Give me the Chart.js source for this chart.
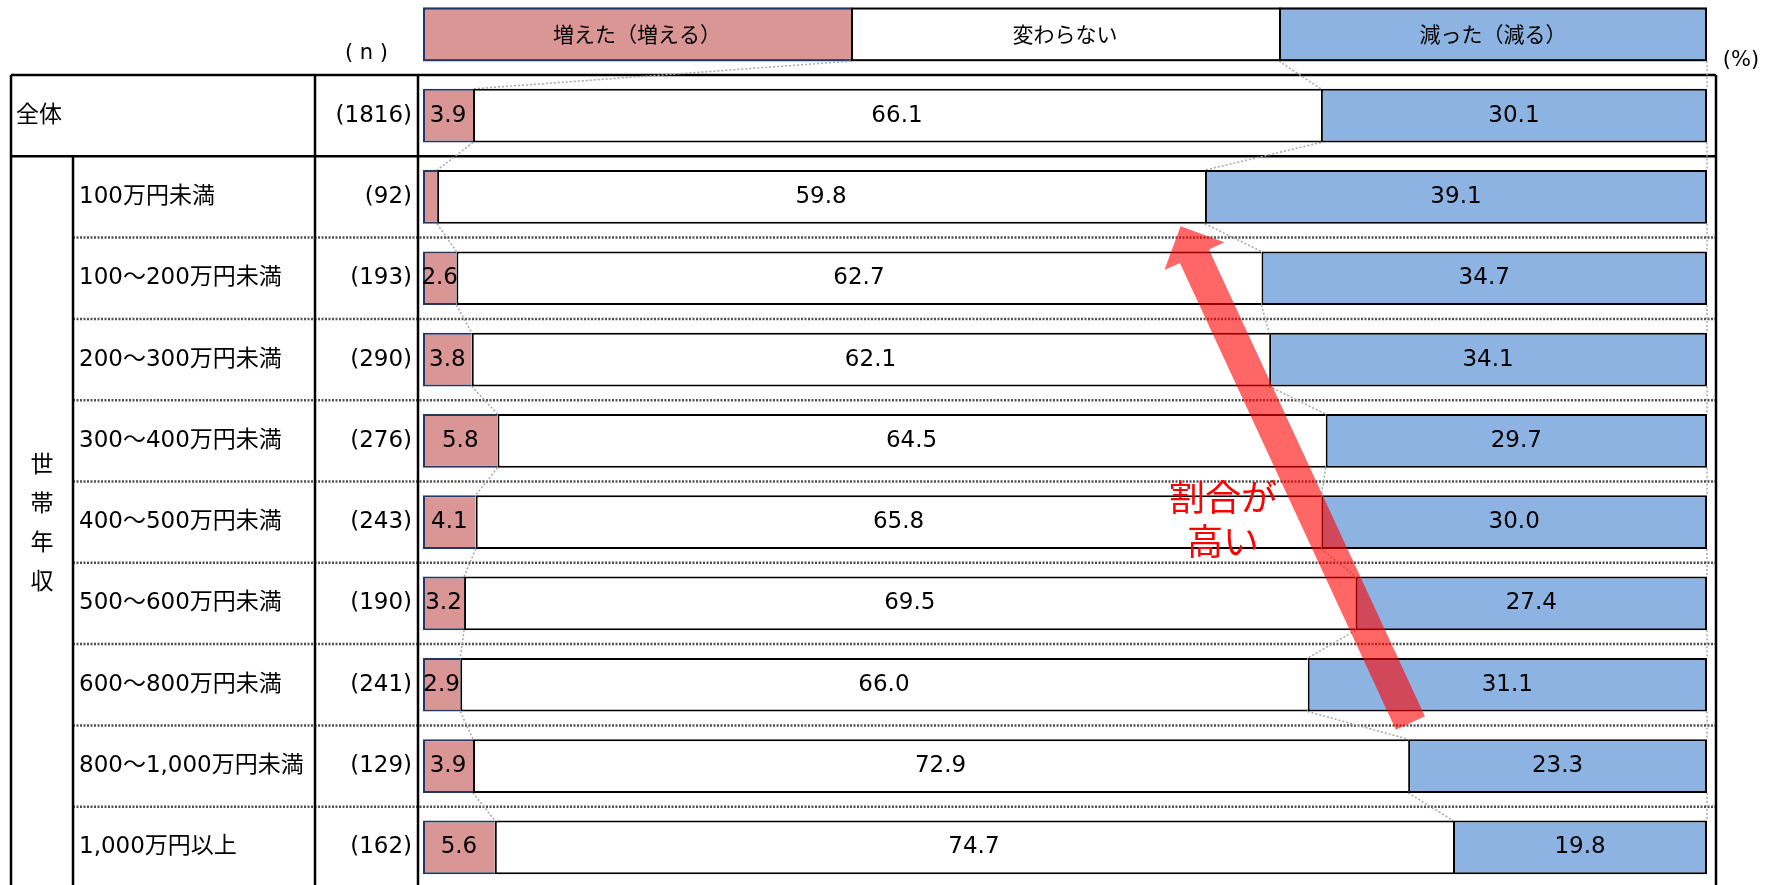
<!DOCTYPE html>
<html lang="ja">
<head>
<meta charset="utf-8">
<script src="https://cdn.jsdelivr.net/npm/chart.js@4"></script>
<style>
  html, body { margin: 0; padding: 0; background: #fff; overflow: hidden; }
  canvas { display: block; }
</style>
</head>
<body>
<canvas id="chart" width="1772" height="900"></canvas>
<script>
const ROW_LABELS = ['全体', '100万円未満', '100～200万円未満', '200～300万円未満', '300～400万円未満',
  '400～500万円未満', '500～600万円未満', '600～800万円未満', '800～1,000万円未満', '1,000万円以上'];
const N_LABELS = ['(1816)', '(92)', '(193)', '(290)', '(276)', '(243)', '(190)', '(241)', '(129)', '(162)'];
const INCREASED = [3.9, 1.1, 2.6, 3.8, 5.8, 4.1, 3.2, 2.9, 3.9, 5.6];
const UNCHANGED = [66.1, 59.8, 62.7, 62.1, 64.5, 65.8, 69.5, 66.0, 72.9, 74.7];
const DECREASED = [30.1, 39.1, 34.7, 34.1, 29.7, 30.0, 27.4, 31.1, 23.3, 19.8];
const SERIES_NAMES = ['増えた（増える）', '変わらない', '減った（減る）'];
const GROUP_LABEL = '世帯年収';
const NOTE_LINES = ['割合が', '高い'];

const COLORS = ['#D99694', '#FFFFFF', '#8DB3E2'];
const BORDERS = ['#1F3864', '#000000', '#000000'];
const FONT = '"DejaVu Sans", "Noto Sans CJK JP", sans-serif';
const CJK = '"Noto Sans CJK JP", sans-serif';

// table column edges (px)
const COL_LEFT = 11, COL_GROUP = 73, COL_N = 315, COL_BAR = 418;

const RAW = [INCREASED, UNCHANGED, DECREASED];
// Excel style 100% stacking
const totals = INCREASED.map((v, i) => v + UNCHANGED[i] + DECREASED[i]);
const share = arr => arr.map((v, i) => v / totals[i] * 100);

function line(c, x1, y1, x2, y2) {
  c.beginPath();
  c.moveTo(x1, y1);
  c.lineTo(x2, y2);
  c.stroke();
}

function drawArrow(c, x1, y1, x2, y2, shaftW, headW, headL) {
  const len = Math.hypot(x2 - x1, y2 - y1);
  const ux = (x2 - x1) / len, uy = (y2 - y1) / len;
  const px = -uy, py = ux;
  const bx = x2 - ux * headL, by = y2 - uy * headL;
  c.beginPath();
  c.moveTo(x1 + px * shaftW / 2, y1 + py * shaftW / 2);
  c.lineTo(bx + px * shaftW / 2, by + py * shaftW / 2);
  c.lineTo(bx + px * headW / 2, by + py * headW / 2);
  c.lineTo(x2, y2);
  c.lineTo(bx - px * headW / 2, by - py * headW / 2);
  c.lineTo(bx - px * shaftW / 2, by - py * shaftW / 2);
  c.lineTo(x1 - px * shaftW / 2, y1 - py * shaftW / 2);
  c.closePath();
  c.fill();
}

const tablePlugin = {
  id: 'table',
  beforeDatasetsDraw(chart) {
    const { ctx: c, scales: { x, y } } = chart;
    const rowH = y.getPixelForValue(1) - y.getPixelForValue(0);
    const top = i => y.getPixelForValue(i) - rowH / 2;
    const bottom = chart.height;
    const right = x.right + 9;
    const barH = chart.getDatasetMeta(0).data[0].height;

    c.save();
    // dotted row separators
    c.strokeStyle = '#505050';
    c.lineWidth = 2.5;
    c.setLineDash([2, 1.5]);
    for (let i = 2; i < ROW_LABELS.length; i++) line(c, COL_GROUP, top(i), right, top(i));
    c.setLineDash([]);

    // solid table lines
    c.strokeStyle = '#000';
    c.lineWidth = 2.5;
    line(c, COL_LEFT, top(0), right, top(0));
    line(c, COL_LEFT, top(1), right, top(1));
    line(c, COL_LEFT, top(0), COL_LEFT, bottom);
    line(c, COL_GROUP, top(1), COL_GROUP, bottom);
    line(c, COL_N, top(0), COL_N, bottom);
    line(c, COL_BAR, top(0), COL_BAR, bottom);
    line(c, right, top(0), right, bottom);

    // row labels and n
    c.fillStyle = '#000';
    c.textBaseline = 'middle';
    c.font = '23px ' + FONT;
    ROW_LABELS.forEach((lab, i) => {
      const cy = y.getPixelForValue(i);
      c.textAlign = 'left';
      c.fillText(lab, i === 0 ? 16 : 79, cy);
      c.textAlign = 'right';
      c.fillText(N_LABELS[i], 412, cy);
    });

    // vertical group label
    c.textAlign = 'center';
    c.font = '23px ' + CJK;
    const gMid = (top(1) + y.bottom) / 2;
    [...GROUP_LABEL].forEach((ch, k) => {
      c.fillText(ch, (COL_LEFT + COL_GROUP) / 2, gMid + (k - 1.5) * 39);
    });

    c.font = '21px ' + FONT;
    c.fillText('( n )', (COL_N + COL_BAR) / 2, 54);
    c.fillText('(%)', 1741, 61);

    // legend drawn as a stacked bar above the table
    const ly = y.getPixelForValue(0) - rowH;
    const l0 = ly - barH / 2;
    c.font = '21px ' + CJK;
    SERIES_NAMES.forEach((name, d) => {
      const x0 = x.getPixelForValue(100 * d / 3);
      const x1 = x.getPixelForValue(100 * (d + 1) / 3);
      c.fillStyle = COLORS[d];
      c.fillRect(x0, l0, x1 - x0, barH);
      c.strokeStyle = BORDERS[d];
      c.lineWidth = 2;
      c.strokeRect(x0 + 1, l0 + 1, x1 - x0 - (d === 2 ? 2 : 0), barH - 2);
      c.fillStyle = '#000';
      c.fillText(name, (x0 + x1) / 2, ly);
    });

    // series lines between consecutive bars (legend row included)
    c.strokeStyle = '#A6A6A6';
    c.lineWidth = 1.5;
    c.setLineDash([2, 2]);
    for (let d = 0; d < 3; d++) {
      const els = chart.getDatasetMeta(d).data;
      line(c, x.getPixelForValue(100 * (d + 1) / 3), l0 + barH, els[0].x, els[0].y - els[0].height / 2);
      for (let i = 0; i < els.length - 1; i++) {
        const a = els[i], b = els[i + 1];
        line(c, a.x, a.y + a.height / 2, b.x, b.y - b.height / 2);
      }
    }
    c.restore();
  },
  afterDatasetsDraw(chart) {
    const { ctx: c, scales: { x, y } } = chart;
    c.save();
    c.fillStyle = '#000';
    c.textAlign = 'center';
    c.textBaseline = 'middle';
    c.font = '23px ' + FONT;
    for (let d = 0; d < 3; d++) {
      chart.getDatasetMeta(d).data.forEach((el, i) => {
        const v = RAW[d][i];
        if (v < 2) return; // too thin to label
        c.fillText(v.toFixed(1), (el.x + el.base) / 2, el.y);
      });
    }

    // annotation arrow, positioned in (percent, row) coordinates
    c.fillStyle = 'rgba(255, 0, 0, 0.6)';
    drawArrow(c, x.getPixelForValue(76.9), y.getPixelForValue(7.47),
      x.getPixelForValue(59.0), y.getPixelForValue(1.36), 32, 66, 33);

    c.fillStyle = '#FF0000';
    c.font = '36px ' + CJK;
    c.fillText(NOTE_LINES[0], x.getPixelForValue(62.3), y.getPixelForValue(4.69));
    c.fillText(NOTE_LINES[1], x.getPixelForValue(62.3), y.getPixelForValue(5.23));
    c.restore();
  }
};

const ctx = document.getElementById('chart').getContext('2d');
new Chart(ctx, {
  type: 'bar',
  data: {
    labels: ROW_LABELS,
    datasets: RAW.map((values, d) => ({
      label: SERIES_NAMES[d],
      data: share(values),
      backgroundColor: COLORS[d],
      borderColor: BORDERS[d],
      borderWidth: d === 2 ? 2 : { top: 2, bottom: 2, left: 2, right: 0 },
      borderSkipped: false,
      barPercentage: 0.66,
      categoryPercentage: 1,
    })),
  },
  options: {
    indexAxis: 'y',
    responsive: false,
    animation: false,
    events: [],
    layout: { padding: { left: 423, right: 65, top: 75, bottom: 12 } },
    scales: {
      x: { stacked: true, min: 0, max: 100, display: false },
      y: { stacked: true, display: false },
    },
    plugins: { legend: { display: false }, tooltip: { enabled: false } },
  },
  plugins: [tablePlugin],
});
</script>
</body>
</html>
